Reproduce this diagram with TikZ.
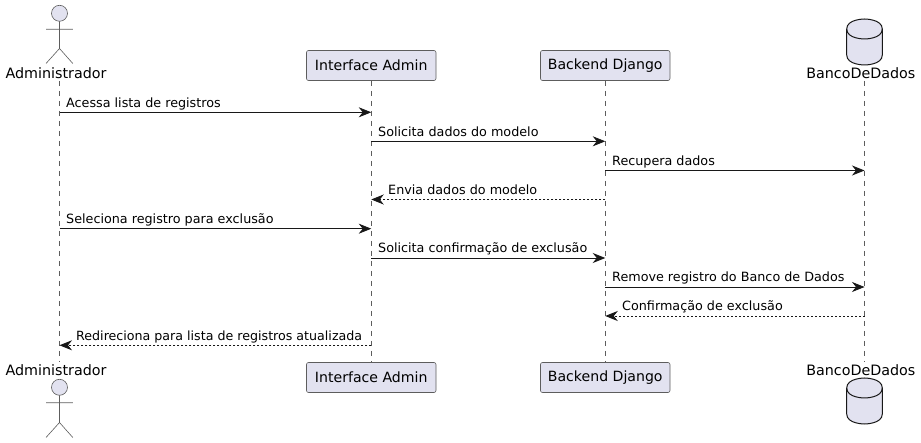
\documentclass[tikz,border=0pt]{standalone}
\usepackage{fontspec}
\setmainfont{DejaVu Sans}
\usetikzlibrary{arrows.meta}
\definecolor{puml}{HTML}{E2E2F0}
\definecolor{pline}{HTML}{181818}
\tikzset{
  x=1pt,y=-1pt,
  pbox/.style={draw=pline!70,fill=puml,rounded corners=2pt,line width=.6pt,minimum width=129.5pt,minimum height=30pt,inner sep=0pt,font=\fontsize{14.1pt}{15pt}\selectfont},
  ptext/.style={inner sep=0pt,text=black,font=\fontsize{14.3pt}{15pt}\selectfont},
  life/.style={draw=pline!70,line width=.6pt,dash pattern=on 5pt off 5pt},
  actorline/.style={draw=pline!70,line width=.6pt},
  dbline/.style={draw=pline,line width=1pt,fill=puml},
  msg/.style={draw=pline,line width=.8pt,-{Stealth[length=12.5pt,width=10pt,inset=4pt]}},
  ret/.style={msg,dash pattern=on 2pt off 2pt},
  mlabel/.style={anchor=base west,inner sep=0pt,text=black,font=\fontsize{12.75pt}{14pt}\selectfont},
}
\begin{document}
\begin{tikzpicture}
\useasboundingbox (0,0) rectangle (921,443);
% lifeline ends
\coordinate (admT) at (59.5,81);
\coordinate (admB) at (59.5,362);
\coordinate (dbT) at (864.5,81);
\coordinate (dbB) at (864.5,362);
\node[pbox] (ifT) at (371.25,65.5) {Interface Admin};
\node[pbox] (ifB) at (371.25,377.5) {Interface Admin};
\node[pbox] (beT) at (605.25,65.5) {Backend Django};
\node[pbox] (beB) at (605.25,377.5) {Backend Django};
\draw[life] (admT) -- (admB);
\draw[life] (ifT) -- (ifB);
\draw[life] (beT) -- (beB);
\draw[life] (dbT) -- (dbB);
% actors
\node[ptext] (admLT) at (56,73) {Administrador};
\node[ptext] (admLB) at (56,370) {Administrador};
\draw[actorline,fill=puml] (59.5,13.3) circle (8);
\draw[actorline] (59.5,21.3) -- (59.5,48.5) (46,29.3) -- (72.8,29.3) (46,63.5) -- (59.5,48.5) -- (72.8,63.5);
\draw[actorline,fill=puml] (59.5,387.3) circle (8);
\draw[actorline] (59.5,395.3) -- (59.5,422.5) (46,402.8) -- (72.8,402.8) (46,437.5) -- (59.5,422.5) -- (72.8,437.5);
% databases
\node[ptext] (dbLT) at (860.8,73) {BancoDeDados};
\node[ptext] (dbLB) at (860.8,370) {BancoDeDados};
\draw[dbline] (846.7,29) .. controls (846.7,19) and (864.5,19) .. (864.5,19) .. controls (864.5,19) and (882.3,19) .. (882.3,29)
  -- (882.3,55) .. controls (882.3,65) and (864.5,65) .. (864.5,65) .. controls (864.5,65) and (846.7,65) .. (846.7,55) -- cycle;
\draw[dbline,fill=none] (846.7,29) .. controls (846.7,39) and (864.5,39) .. (864.5,39) .. controls (864.5,39) and (882.3,39) .. (882.3,29);
\draw[dbline] (846.7,388) .. controls (846.7,378) and (864.5,378) .. (864.5,378) .. controls (864.5,378) and (882.3,378) .. (882.3,388)
  -- (882.3,414) .. controls (882.3,424) and (864.5,424) .. (864.5,424) .. controls (864.5,424) and (846.7,424) .. (846.7,414) -- cycle;
\draw[dbline,fill=none] (846.7,388) .. controls (846.7,398) and (864.5,398) .. (864.5,398) .. controls (864.5,398) and (882.3,398) .. (882.3,388);
% messages
\draw[msg] (admT |- 0,112.3) -- (ifT |- 0,112.3);
\node[mlabel] (m1) at (66,107.3) {Acessa lista de registros};
\draw[msg] (ifT |- 0,141.3) -- (beT |- 0,141.3);
\node[mlabel] (m2) at (378,136.3) {Solicita dados do modelo};
\draw[msg] (beT |- 0,170.5) -- (dbT |- 0,170.5);
\node[mlabel] (m3) at (612,165.5) {Recupera dados};
\draw[ret] (beT |- 0,199.5) -- (ifT |- 0,199.5);
\node[mlabel] (m4) at (388,194.5) {Envia dados do modelo};
\draw[msg] (admT |- 0,228.7) -- (ifT |- 0,228.7);
\node[mlabel] (m5) at (66,223.7) {Seleciona registro para exclusão};
\draw[msg] (ifT |- 0,258) -- (beT |- 0,258);
\node[mlabel] (m6) at (378,253) {Solicita confirmação de exclusão};
\draw[msg] (beT |- 0,287) -- (dbT |- 0,287);
\node[mlabel] (m7) at (612,282) {Remove registro do Banco de Dados};
\draw[ret] (dbT |- 0,316) -- (beT |- 0,316);
\node[mlabel] (m8) at (622,311) {Confirmação de exclusão};
\draw[ret] (ifT |- 0,345.3) -- (admT |- 0,345.3);
\node[mlabel,font=\fontsize{12.65pt}{14pt}\selectfont] (m9) at (76,340.3) {Redireciona para lista de registros atualizada};
\end{tikzpicture}
\end{document}
